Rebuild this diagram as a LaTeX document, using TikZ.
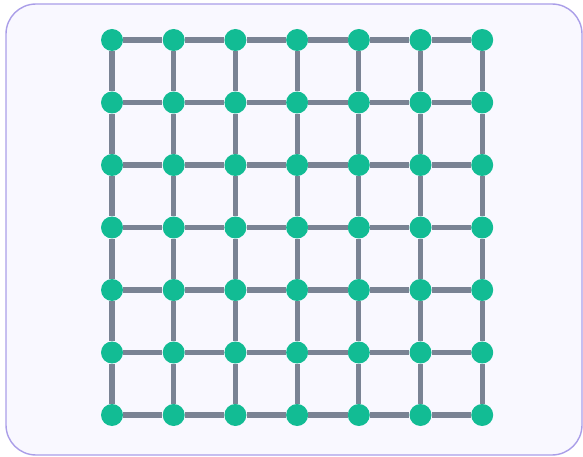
\documentclass[tikz,border=0pt]{standalone}
\usetikzlibrary{positioning}
\definecolor{dotgreen}{RGB}{18,188,148}
\definecolor{edgegray}{RGB}{122,131,148}
\definecolor{framelav}{RGB}{170,158,232}
\definecolor{panelbg}{RGB}{249,248,255}
\begin{document}
\begin{tikzpicture}[x=0.03cm, y=-0.03cm,
    vertex/.style={circle, fill=dotgreen, inner sep=0pt, minimum size=0.66cm},
    link/.style={draw=edgegray, line width=4.4pt}]
    \useasboundingbox (0,0) rectangle (583,457);

    % panel
    \draw[framelav, fill=panelbg, line width=1.2pt, rounded corners=0.9cm] (6,4) rectangle (582,455);

    % vertices
    \foreach \i in {1,...,7} {
        \foreach \j in {1,...,7} {
            \pgfmathsetmacro{\x}{112 + (\i-1)*61.7}
            \pgfmathsetmacro{\y}{40 + (\j-1)*62.5}
            \node[vertex] (v\i\j) at (\x, \y) {};
        }
    }

    % edges
    \foreach \i in {1,...,7} {
        \foreach \j [count=\k from 2] in {1,...,6} {
            \draw[link] (v\i\j) -- (v\i\k);
            \draw[link] (v\j\i) -- (v\k\i);
        }
    }

\end{tikzpicture}
\end{document}
